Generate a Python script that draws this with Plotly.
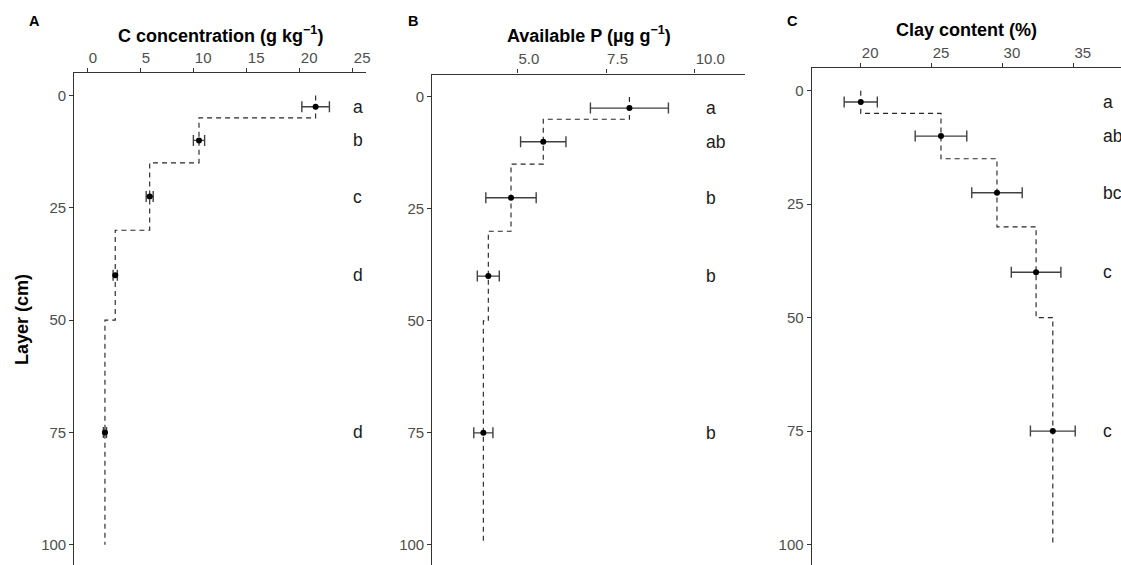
import plotly.graph_objects as go

# ---------------- data ----------------
depth_mid = [2.5, 10, 22.5, 40, 75]
layer_top = [0, 5, 15, 30, 50]
layer_bottom = [5, 15, 30, 50, 100]

c_conc = [21.5, 10.5, 5.85, 2.6, 1.63]
c_se = [1.3, 0.53, 0.33, 0.2, 0.15]
c_letters = ["a", "b", "c", "d", "d"]

avail_p = [8.16, 5.73, 4.82, 4.18, 4.04]
p_se = [1.1, 0.64, 0.71, 0.31, 0.27]
p_letters = ["a", "ab", "b", "b", "b"]

clay = [20.0, 25.66, 29.61, 32.37, 33.55]
clay_se = [1.17, 1.82, 1.78, 1.75, 1.58]
clay_letters = ["a", "ab", "bc", "c", "c"]

y_ticks = [0, 25, 50, 75, 100]
c_ticks = [0, 5, 10, 15, 20, 25]
p_ticks = [5.0, 7.5, 10.0]
p_ticktext = ["5.0", "7.5", "10.0"]
clay_ticks = [20, 25, 30, 35]

titles = ["C concentration (g kg<sup>−1</sup>)", "Available P (µg g<sup>−1</sup>)", "Clay content (%)"]
tags = ["A", "B", "C"]

# ---------------- layout helpers ----------------
W, H = 1121, 565
FONT = "Liberation Sans, Arial, Helvetica, sans-serif"
panels = [
    dict(vals=c_conc, se=c_se, letters=c_letters, ticks=c_ticks, ticktext=[str(t) for t in c_ticks],
         x0=74.3, x1=366.0, top=73.0, xrange=[-1.26, 26.25], letter_x=24.85,
         title_x=220.2, title_y=35, tag_x=34),
    dict(vals=avail_p, se=p_se, letters=p_letters, ticks=p_ticks, ticktext=p_ticktext,
         x0=432.3, x1=745.0, top=74.5, xrange=[2.60, 11.42], letter_x=10.25,
         title_x=588.6, title_y=35, tag_x=413),
    dict(vals=clay, se=clay_se, letters=clay_letters, ticks=clay_ticks, ticktext=[str(t) for t in clay_ticks],
         x0=811.7, x1=1121.0, top=68.0, xrange=[16.54, 38.36], letter_x=36.98,
         title_x=966.4, title_y=30.5, tag_x=792),
]

fig = go.Figure()
annotations = []

for i, p in enumerate(panels):
    n = "" if i == 0 else str(i + 1)
    xa = "x" + n
    ya = "y" + n

    # step (dashed) profile built from the layer values
    sx, sy = [], []
    for v, t, b in zip(p["vals"], layer_top, layer_bottom):
        sx += [v, v]
        sy += [t, b]
    fig.add_trace(go.Scatter(x=sx, y=sy, mode="lines", xaxis=xa, yaxis=ya,
                             line=dict(color="#262626", width=1.15, dash="5px,4px"),
                             showlegend=False, hoverinfo="skip"))
    # mean points with error bars
    fig.add_trace(go.Scatter(x=p["vals"], y=depth_mid, mode="markers", xaxis=xa, yaxis=ya,
                             marker=dict(color="black", size=6),
                             error_x=dict(type="data", array=p["se"], visible=True,
                                          color="#404040", thickness=1.4, width=5.5),
                             showlegend=False))

    dom_x = [p["x0"] / W, p["x1"] / W]
    dom_y = [0, (H - p["top"]) / H]
    fig.layout["xaxis" + n] = dict(
        domain=dom_x, range=p["xrange"], side="top", anchor=ya,
        showline=True, linecolor="#333333", linewidth=1.2,
        ticks="outside", ticklen=4, tickwidth=1, tickcolor="#333333",
        tickvals=p["ticks"], ticktext=p["ticktext"],
        ticklabelposition="outside right", ticklabelstandoff=3,
        tickfont=dict(family=FONT, size=15, color="#4d4d4d"),
        showgrid=False, zeroline=False, automargin=False, fixedrange=True,
    )
    fig.layout["yaxis" + n] = dict(
        domain=dom_y, range=[104.5, -5], anchor=xa,
        showline=True, linecolor="#333333", linewidth=1.2,
        ticks="outside", ticklen=4, tickwidth=1, tickcolor="#333333",
        tickvals=y_ticks, ticktext=[str(t) for t in y_ticks],
        tickfont=dict(family=FONT, size=15, color="#4d4d4d"),
        showgrid=False, zeroline=False, automargin=False, fixedrange=True,
    )

    # significance letters
    for d, lab in zip(depth_mid, p["letters"]):
        annotations.append(dict(x=p["letter_x"], y=d, xref=xa, yref=ya, text=lab,
                                showarrow=False, xanchor="left", yanchor="middle",
                                font=dict(family=FONT, size=17.5, color="#1a1a1a")))
    # axis title
    annotations.append(dict(x=p["title_x"] / W, y=(H - p["title_y"]) / H, xref="paper", yref="paper",
                            text="<b>" + titles[i] + "</b>", showarrow=False,
                            xanchor="center", yanchor="middle",
                            font=dict(family=FONT, size=18, color="black")))
    # panel tag
    annotations.append(dict(x=p["tag_x"] / W, y=(H - 20.5) / H, xref="paper", yref="paper",
                            text="<b>" + tags[i] + "</b>", showarrow=False,
                            xanchor="center", yanchor="middle",
                            font=dict(family=FONT, size=14.5, color="black")))

annotations.append(dict(x=22 / W, y=(H - 320) / H, xref="paper", yref="paper",
                        text="<b>Layer (cm)</b>", showarrow=False, textangle=-90,
                        xanchor="center", yanchor="middle",
                        font=dict(family=FONT, size=18, color="black")))

fig.update_layout(
    width=W, height=H, margin=dict(l=0, r=0, t=0, b=0),
    paper_bgcolor="white", plot_bgcolor="white",
    annotations=annotations, showlegend=False,
)

fig.write_html("out.html", config={"displayModeBar": False},
               post_script="document.body.style.margin='0';document.body.style.overflow='hidden';")
